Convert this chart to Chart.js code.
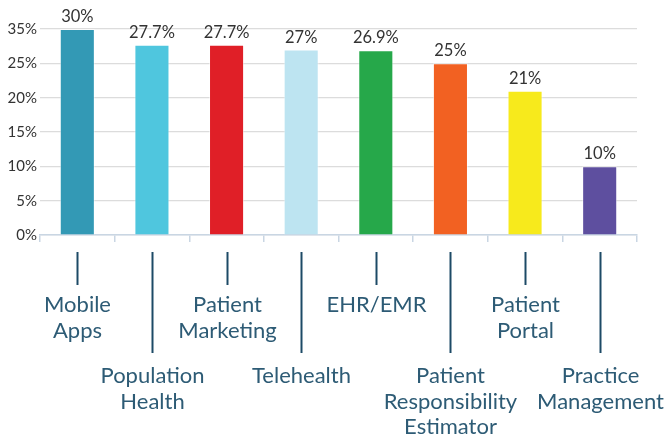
<!DOCTYPE html>
<html>
<head>
<meta charset="utf-8">
<script src="https://cdn.jsdelivr.net/npm/chart.js@4"></script>
<style>
  html, body { margin: 0; padding: 0; background: #fff; }
  #wrap { width: 666px; height: 438px; }
</style>
</head>
<body>
<div id="wrap"><canvas id="myChart"></canvas></div>
<script>
// data
const categories = [
  ['Mobile', 'Apps'],
  ['Population', 'Health'],
  ['Patient', 'Marketing'],
  ['Telehealth'],
  ['EHR/EMR'],
  ['Patient', 'Responsibility', 'Estimator'],
  ['Patient', 'Portal'],
  ['Practice', 'Management']
];
const values = [30, 27.7, 27.7, 27, 26.9, 25, 21, 10];
const yTickLabels = ['0%', '5%', '10%', '15%', '20%', '25%', '35%'];
const barColors = ['#3399b5', '#4fc6de', '#e01f27', '#bde4f1', '#26a84a', '#f26122', '#f7ea1c', '#5e4f9f'];

const fontFamily = 'Lato, "Open Sans", sans-serif';

// value labels above bars
const valueLabelPlugin = {
  id: 'valueLabels',
  afterDatasetsDraw(chart) {
    const ctx = chart.ctx;
    const meta = chart.getDatasetMeta(0);
    ctx.save();
    ctx.font = '16.5px ' + fontFamily;
    ctx.fillStyle = '#333';
    ctx.textAlign = 'center';
    ctx.textBaseline = 'alphabetic';
    meta.data.forEach((bar, i) => {
      ctx.fillText(values[i] + '%', bar.x, bar.y - 7);
    });
    ctx.restore();
  }
};

// staggered category labels with leader lines
const xLabelPlugin = {
  id: 'xLabels',
  afterDraw(chart) {
    const ctx = chart.ctx;
    const xScale = chart.scales.x;
    const bottom = chart.chartArea.bottom;
    ctx.save();
    ctx.strokeStyle = '#1d4a66';
    ctx.lineWidth = 2;
    ctx.fillStyle = '#2d5b75';
    ctx.font = '22px ' + fontFamily;
    ctx.textAlign = 'center';
    categories.forEach((lines, i) => {
      const x = Math.round(xScale.getPixelForValue(i)) + 0.5;
      const low = i % 2 === 1;
      ctx.beginPath();
      ctx.moveTo(x, bottom + 17);
      ctx.lineTo(x, bottom + (low ? 118 : 50));
      ctx.stroke();
      const firstBase = bottom + (low ? 148 : 77);
      lines.forEach((txt, j) => {
        ctx.fillText(txt, x, firstBase + j * 25.5);
      });
    });
    ctx.restore();
  }
};

const ctx = document.getElementById('myChart');

const barchart = new Chart(ctx, {
  type: 'bar',
  data: {
    labels: categories.map((c) => c.join(' ')),
    datasets: [{
      data: values,
      backgroundColor: barColors,
      borderColor: 'rgba(255,255,255,0.5)',
      borderWidth: 1,
      barPercentage: 0.47,
      categoryPercentage: 1
    }]
  },
  options: {
    responsive: true,
    maintainAspectRatio: false,
    animation: false,
    layout: {
      padding: { left: 0, top: 29, right: 29, bottom: 0 }
    },
    plugins: {
      legend: { display: false },
      tooltip: { enabled: false }
    },
    scales: {
      x: {
        afterFit: (scale) => { scale.height = 203; },
        grid: {
          display: true,
          drawOnChartArea: false,
          drawTicks: true,
          tickLength: 7,
          color: '#c9d6e3',
          lineWidth: 1.5
        },
        border: { display: true, color: '#c9d6e3', width: 1.5 },
        ticks: { display: false }
      },
      y: {
        min: 0,
        max: 30,
        afterFit: (scale) => { scale.width = 40; },
        ticks: {
          stepSize: 5,
          padding: 3,
          color: '#333',
          font: { family: fontFamily, size: 15 },
          callback: (value, index) => yTickLabels[index]
        },
        grid: { color: '#dcdcdc', drawTicks: false, lineWidth: 1.2 },
        border: { display: false }
      }
    }
  },
  plugins: [valueLabelPlugin, xLabelPlugin]
});
</script>
</body>
</html>
